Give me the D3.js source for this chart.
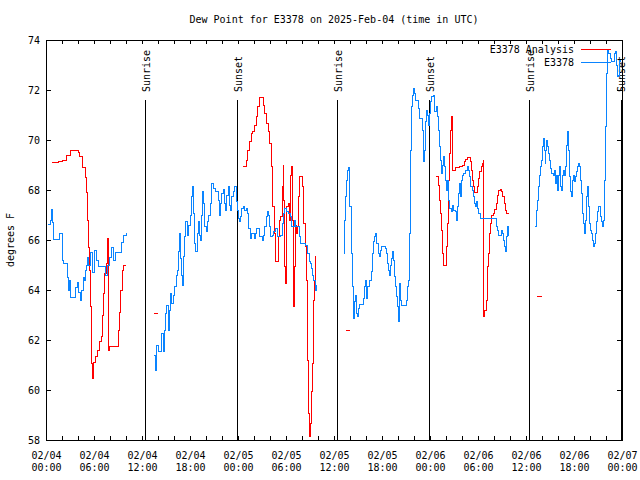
<!DOCTYPE html>
<html>
<head>
<meta charset="utf-8">
<script src="https://cdn.jsdelivr.net/npm/d3@7"></script>
<style>
  html, body { margin: 0; padding: 0; background: #fff; }
  svg { display: block; }
  text { font-family: "DejaVu Sans Mono", "Liberation Mono", monospace; font-size: 10px; fill: #000; }
</style>
</head>
<body>
<svg id="chart" width="640" height="480"></svg>
<script>
// ---------------- DATA (hours after 2025-02-04 00:00 UTC, degrees F) ----------------
const titleText = "Dew Point for E3378 on 2025-Feb-04 (time in UTC)";
const yLabelText = "degrees F";
const seriesNames = ["E3378 Analysis", "E3378"];
const yTickValues = [58, 60, 62, 64, 66, 68, 70, 72, 74];
const sunriseHours = [12.42, 36.42, 60.42];
const sunsetHours = [23.88, 47.9, 71.86];

const analysisSeg1 = [[0.75,69.1],[1.5,69.15],[2.0,69.2],[2.5,69.4],[3.0,69.57],[3.75,69.6],[4.0,69.5],[4.16,69.33],[4.5,68.9],[4.91,68.5],[5.09,67.9],[5.21,66.8],[5.34,65.7],[5.46,64.8],[5.54,63.33],[5.63,61.08],[5.79,60.47],[5.91,61.1],[6.16,61.33],[6.46,61.6],[6.66,61.93],[6.88,62.13],[7.0,63.0],[7.16,63.87],[7.34,64.67],[7.5,65.07],[7.63,65.73],[7.66,66.07],[7.79,61.6],[7.91,61.73],[8.88,61.73],[9.04,62.4],[9.16,63.1],[9.34,64.0],[9.5,64.8],[9.66,65.0],[10.0,65.0]];
const analysisDash1 = [[13.5,63.07],[14.0,63.07]];
const analysisSeg2 = [[24.63,68.96],[24.84,68.96],[25.0,69.2],[25.16,69.6],[25.41,69.93],[25.63,70.27],[25.84,70.33],[26.04,70.6],[26.25,70.93],[26.46,71.33],[26.66,71.71],[26.91,71.71],[27.13,71.4],[27.34,71.07],[27.59,70.67],[27.75,70.33],[27.96,69.87],[28.16,68.93],[28.34,67.33],[28.5,66.27],[28.63,65.53],[28.71,65.13],[28.91,65.13],[29.0,66.13],[29.16,66.8],[29.34,66.93],[29.5,68.13],[29.63,69.0],[29.71,67.6],[29.79,64.93],[29.88,64.27],[30.0,64.93],[30.09,67.33],[30.25,67.47],[30.41,66.8],[30.54,68.6],[30.66,68.93],[30.79,66.8],[30.88,63.33],[31.0,64.93],[31.13,66.6],[31.29,66.27],[31.46,66.53],[31.59,67.73],[31.71,68.53],[31.91,68.53],[32.04,68.13],[32.21,66.67],[32.38,65.73],[32.54,64.4],[32.66,61.2],[32.79,59.07],[32.88,58.13],[33.0,58.67],[33.13,59.93],[33.29,61.07],[33.41,63.6],[33.59,64.4],[33.66,65.33],[33.75,65.33]];
const analysisDash2 = [[37.5,62.37],[38.0,62.37]];
const analysisSeg3 = [[48.71,68.53],[48.91,68.53],[49.04,68.2],[49.16,67.6],[49.29,67.07],[49.41,66.4],[49.5,65.87],[49.59,65.47],[49.66,65.0],[49.91,65.0],[50.0,65.73],[50.13,66.67],[50.25,67.47],[50.34,68.4],[50.46,69.47],[50.54,70.4],[50.66,70.93],[50.75,68.8],[51.13,68.9],[51.63,68.93],[52.04,69.0],[52.25,69.13],[52.46,69.23],[52.66,69.31],[52.88,69.31],[53.0,69.13],[53.13,68.8],[53.25,68.4],[53.41,68.13],[53.54,67.89],[53.75,67.89],[53.88,68.13],[54.04,68.47],[54.21,68.73],[54.38,68.93],[54.5,69.07],[54.63,69.2],[54.66,62.93],[54.79,63.2],[54.91,63.2],[55.04,63.6],[55.13,64.93],[55.25,65.47],[55.38,66.27],[55.54,66.67],[55.66,67.0],[55.91,67.07],[56.09,67.23],[56.25,67.47],[56.41,67.8],[56.59,68.0],[56.75,68.04],[56.91,67.96],[57.09,67.73],[57.25,67.47],[57.41,67.2],[57.59,67.07],[57.91,67.07]];
const analysisDash3 = [[61.4,63.76],[62.0,63.76]];

const stationSeg1 = [[0.25,66.64],[0.5,66.8],[0.69,67.24],[0.81,66.7],[0.88,66.04],[1.56,66.04],[1.69,66.28],[1.94,66.28],[2.0,65.2],[2.13,65.07],[2.5,65.07],[2.69,64.5],[2.81,64.0],[2.88,64.4],[3.0,63.7],[3.5,63.7],[3.63,64.1],[3.88,64.3],[4.06,63.9],[4.25,63.6],[4.38,64.0],[4.63,64.5],[4.75,64.4],[4.88,64.8],[5.0,65.0],[5.19,65.3],[5.31,65.0],[5.5,65.5],[5.75,64.7],[6.0,65.6],[6.25,65.2],[6.5,64.96],[7.25,64.96],[7.44,64.6],[7.63,65.0],[7.88,65.3],[8.13,65.7],[8.38,65.2],[8.63,65.5],[9.13,65.5],[9.38,65.9],[9.63,66.2],[10.0,66.3]];
const stationSeg2 = [[13.5,61.4],[13.63,60.8],[13.84,61.8],[14.04,61.53],[14.46,62.27],[14.66,61.53],[14.75,62.4],[14.96,63.07],[15.09,63.4],[15.29,62.4],[15.41,63.2],[15.59,63.87],[15.71,63.47],[15.91,63.8],[16.09,64.13],[16.25,64.6],[16.41,64.8],[16.59,65.53],[16.66,66.27],[16.79,65.27],[16.91,64.6],[17.04,64.2],[17.16,65.33],[17.29,66.13],[17.41,66.73],[17.63,66.2],[17.84,66.6],[18.0,67.0],[18.13,67.73],[18.29,68.13],[18.41,67.07],[18.59,65.87],[18.71,65.53],[18.88,66.27],[19.0,66.73],[19.16,66.2],[19.29,66.0],[19.41,67.0],[19.54,67.93],[19.66,67.47],[19.84,66.53],[20.0,66.33],[20.16,66.73],[20.34,67.0],[20.5,67.47],[20.63,67.87],[20.71,68.27],[20.91,68.07],[21.13,67.93],[21.54,67.6],[21.66,67.0],[21.79,67.47],[21.96,67.87],[22.16,68.03],[22.29,67.47],[22.46,67.2],[22.59,67.8],[22.75,68.16],[22.91,67.4],[23.09,67.2],[23.21,67.73],[23.38,67.93],[23.54,68.13],[23.75,67.53],[23.91,67.2],[24.04,66.87],[24.16,66.73],[24.29,66.93],[24.46,67.27],[24.66,67.33],[24.79,67.2],[25.0,67.27],[25.16,67.07],[25.34,66.47],[25.5,66.07],[25.66,66.27],[26.0,66.07],[26.16,66.27],[26.34,66.47],[26.66,66.13],[27.0,66.0],[27.16,66.2],[27.34,66.53],[27.5,66.93],[27.63,67.13],[27.75,67.0],[27.91,66.53],[28.09,66.13],[28.25,66.2],[28.46,66.33],[28.66,66.47],[28.88,66.13],[29.29,66.2],[29.5,66.67],[29.66,67.07],[29.84,67.27],[30.0,67.13],[30.34,67.07],[30.5,66.93],[30.66,66.53],[31.0,66.8],[31.16,66.53],[31.66,66.13],[31.84,65.87],[32.41,65.8],[32.71,65.47],[32.88,65.13],[33.0,65.07],[33.16,64.87],[33.29,64.6],[33.41,64.4],[33.66,64.0],[33.75,64.2]];
const stationSeg3 = [[37.21,65.47],[37.25,65.87],[37.34,66.8],[37.46,67.73],[37.59,68.4],[37.71,68.8],[37.84,68.91],[37.96,67.33],[38.13,65.47],[38.25,64.13],[38.38,63.33],[38.46,62.87],[38.59,63.53],[38.71,63.8],[38.84,63.07],[38.96,62.93],[39.09,63.27],[39.21,63.44],[39.71,63.67],[39.84,64.13],[39.96,64.4],[40.09,63.67],[40.21,64.13],[40.38,64.4],[40.71,64.73],[40.84,65.47],[40.96,65.93],[41.09,66.13],[41.21,66.27],[41.34,65.87],[41.5,65.47],[41.63,65.33],[41.75,65.6],[41.88,65.73],[42.38,65.67],[42.54,65.47],[42.66,65.07],[42.79,64.8],[42.91,64.6],[43.04,65.0],[43.16,65.27],[43.29,65.53],[43.41,65.2],[43.54,64.53],[43.66,64.13],[43.79,63.73],[43.91,63.33],[44.04,62.73],[44.16,64.27],[44.29,63.6],[44.41,63.39],[44.84,63.39],[45.04,63.6],[45.21,64.13],[45.34,64.4],[45.46,66.27],[45.59,69.6],[45.71,71.33],[45.79,71.8],[45.91,72.07],[46.04,71.87],[46.21,71.57],[46.5,71.27],[46.71,70.87],[46.88,70.87],[47.0,70.4],[47.13,69.6],[47.21,69.13],[47.29,69.6],[47.41,70.73],[47.5,71.2],[47.63,71.0],[47.75,70.6],[47.88,71.07],[48.04,71.53],[48.21,71.73],[48.41,71.8],[48.54,71.13],[48.79,71.33],[48.91,70.93],[49.04,70.4],[49.16,69.73],[49.29,69.2],[49.41,68.67],[49.54,69.0],[49.66,69.33],[49.79,68.93],[49.96,68.4],[50.09,68.0],[50.21,68.4],[50.34,67.6],[50.46,67.27],[50.63,67.13],[50.75,67.4],[50.88,67.2],[51.16,67.13],[51.29,66.8],[51.41,67.33],[51.54,67.87],[51.66,68.27],[51.79,67.73],[51.91,68.4],[52.04,68.6],[52.21,68.67],[52.38,68.8],[52.71,68.93],[52.84,68.8],[52.96,68.53],[53.09,68.13],[53.34,68.0],[53.46,67.73],[53.59,67.47],[53.71,67.33],[53.84,67.53],[53.96,67.27],[54.09,67.07],[54.25,66.87],[56.13,66.87],[56.25,66.53],[56.41,66.4],[56.54,66.2],[56.75,66.2],[56.91,66.4],[57.04,66.27],[57.16,66.0],[57.29,65.73],[57.41,65.53],[57.54,66.13],[57.66,66.53],[57.79,66.2],[57.91,66.2]];
const stationSeg4 = [[61.16,66.53],[61.25,67.2],[61.41,67.6],[61.54,68.13],[61.66,68.6],[61.79,68.93],[61.91,69.2],[62.0,69.73],[62.13,70.07],[62.25,69.6],[62.38,69.07],[62.46,69.6],[62.59,70.0],[62.71,69.73],[62.84,69.47],[62.96,69.2],[63.09,68.87],[63.21,68.67],[63.38,68.6],[63.54,68.8],[63.66,68.27],[63.79,68.6],[63.91,68.0],[64.04,68.6],[64.16,68.93],[64.29,68.13],[64.41,68.0],[64.54,68.6],[64.66,68.8],[64.79,68.6],[64.91,68.93],[65.04,69.8],[65.16,70.33],[65.29,69.6],[65.41,68.53],[65.54,67.93],[65.66,67.73],[65.79,68.4],[65.91,68.6],[66.09,68.33],[66.21,68.53],[66.34,68.73],[66.46,68.93],[66.59,69.07],[66.71,68.93],[66.84,68.4],[66.96,67.87],[67.09,67.07],[67.21,66.67],[67.34,66.27],[67.46,66.8],[67.59,67.73],[67.71,68.13],[67.84,67.33],[67.96,66.67],[68.09,66.4],[68.21,66.27],[68.34,66.0],[68.46,65.73],[68.59,65.87],[68.71,66.27],[68.84,66.73],[68.96,67.13],[69.09,67.33],[69.34,66.93],[69.46,66.73],[69.59,66.53],[69.71,66.8],[69.79,68.4],[69.91,70.53],[70.04,72.67],[70.16,73.6],[70.34,73.47],[70.5,73.27],[70.66,73.13],[70.84,73.13],[71.0,73.47],[71.16,73.53],[71.29,73.0],[71.41,72.53],[71.59,72.6],[71.71,73.2],[71.84,73.13]];

const analysisSegments = [analysisSeg1, analysisDash1, analysisSeg2, analysisDash2, analysisSeg3, analysisDash3];
const stationSegments = [stationSeg1, stationSeg2, stationSeg3, stationSeg4];

// ---------------- CHART ----------------
const W = 640, H = 480;
const plot = { left: 46, right: 622, top: 40, bottom: 440 };
const t0 = Date.UTC(2025, 1, 4, 0, 0);
const HOUR = 3600 * 1000;
const toDate = h => new Date(t0 + h * HOUR);

const x = d3.scaleUtc().domain([toDate(0), toDate(72)]).range([plot.left, plot.right]);
const y = d3.scaleLinear().domain([58, 74]).range([plot.bottom, plot.top]);

const svg = d3.select("#chart");
const colors = { analysis: "#ff0000", station: "#0a84ff" };

const majorTicks = d3.range(0, 73, 6).map(toDate);
const minorTicks = d3.range(0, 73, 2).map(toDate);
const fmtDay = d3.utcFormat("%m/%d");
const fmtTime = d3.utcFormat("%H:%M");

// minor ticks bottom/top
svg.append("g").attr("transform", `translate(0,${plot.bottom})`)
  .call(d3.axisBottom(x).tickValues(minorTicks).tickSize(-4).tickFormat(""))
  .call(g => g.select(".domain").remove())
  .call(g => g.selectAll("line").attr("stroke", "#000").attr("shape-rendering", "crispEdges"));
svg.append("g").attr("transform", `translate(0,${plot.top})`)
  .call(d3.axisTop(x).tickValues(minorTicks).tickSize(-4).tickFormat(""))
  .call(g => g.select(".domain").remove())
  .call(g => g.selectAll("line").attr("stroke", "#000").attr("shape-rendering", "crispEdges"));

// labelled time axis
svg.append("g").attr("transform", `translate(0,${plot.bottom})`)
  .call(d3.axisBottom(x).tickValues(majorTicks).tickSize(0).tickPadding(0).tickFormat(""))
  .call(g => g.select(".domain").remove())
  .call(g => g.selectAll(".tick").each(function(d) {
    const t = d3.select(this).select("text");
    t.attr("y", 0).attr("dy", null).attr("font-family", null).attr("font-size", null).attr("fill", "#000");
    t.append("tspan").attr("x", 0).attr("y", 19).text(fmtDay(d));
    t.append("tspan").attr("x", 0).attr("y", 31).text(fmtTime(d));
  }));

// y axes
svg.append("g").attr("transform", `translate(${plot.left},0)`)
  .call(d3.axisLeft(y).tickValues(yTickValues).tickSize(-5).tickPadding(6).tickFormat(d3.format("d")))
  .call(g => g.select(".domain").remove())
  .call(g => g.selectAll("text").attr("font-family", null).attr("font-size", null).attr("fill", "#000").attr("dy", "0.35em"))
  .call(g => g.selectAll("line").attr("stroke", "#000").attr("shape-rendering", "crispEdges"));
svg.append("g").attr("transform", `translate(${plot.right},0)`)
  .call(d3.axisRight(y).tickValues(yTickValues).tickSize(-5).tickFormat(""))
  .call(g => g.select(".domain").remove())
  .call(g => g.selectAll("line").attr("stroke", "#000").attr("shape-rendering", "crispEdges"));

// frame
svg.append("rect")
  .attr("x", plot.left + 0.5).attr("y", plot.top + 0.5)
  .attr("width", plot.right - plot.left).attr("height", plot.bottom - plot.top)
  .attr("fill", "none").attr("stroke", "#000").attr("stroke-width", 1)
  .attr("shape-rendering", "crispEdges");

// sunrise / sunset markers
const sunMarks = sunriseHours.map(h => ({ h, label: "Sunrise" }))
  .concat(sunsetHours.map(h => ({ h, label: "Sunset" })));
const sunG = svg.append("g");
sunG.selectAll("line").data(sunMarks).join("line")
  .attr("x1", d => Math.round(x(toDate(d.h))) + 0.5).attr("x2", d => Math.round(x(toDate(d.h))) + 0.5)
  .attr("y1", 100).attr("y2", plot.bottom)
  .attr("stroke", "#000").attr("stroke-width", 1).attr("shape-rendering", "crispEdges");
sunG.selectAll("text").data(sunMarks).join("text")
  .attr("transform", d => `translate(${x(toDate(d.h)) + 4.5},92) rotate(-90)`)
  .attr("text-anchor", "start")
  .text(d => d.label);

// series
const line = d3.line()
  .x(d => x(toDate(d[0])))
  .y(d => y(d[1]))
  .curve(d3.curveStepAfter);

const gA = svg.append("g");
gA.selectAll("path").data(analysisSegments).join("path")
  .attr("d", line).attr("fill", "none").attr("stroke", colors.analysis).attr("stroke-width", 1)
  .attr("shape-rendering", "crispEdges");
const gS = svg.append("g");
gS.selectAll("path").data(stationSegments).join("path")
  .attr("d", line).attr("fill", "none").attr("stroke", colors.station).attr("stroke-width", 1)
  .attr("shape-rendering", "crispEdges");

// title & y label
svg.append("text").attr("x", (plot.left + plot.right) / 2).attr("y", 23)
  .attr("text-anchor", "middle").text(titleText);
svg.append("text").attr("transform", `translate(14,${(plot.top + plot.bottom) / 2}) rotate(-90)`)
  .attr("text-anchor", "middle").text(yLabelText);

// legend
const legend = [
  { name: seriesNames[0], color: colors.analysis, yy: 49 },
  { name: seriesNames[1], color: colors.station, yy: 62 }
];
const lg = svg.append("g");
lg.selectAll("text").data(legend).join("text")
  .attr("x", 574).attr("y", d => d.yy).attr("dy", "0.35em").attr("text-anchor", "end")
  .text(d => d.name);
lg.selectAll("line").data(legend).join("line")
  .attr("x1", 581).attr("x2", 611).attr("y1", d => d.yy + 0.5).attr("y2", d => d.yy + 0.5)
  .attr("stroke", d => d.color).attr("stroke-width", 1).attr("shape-rendering", "crispEdges");
</script>
</body>
</html>
